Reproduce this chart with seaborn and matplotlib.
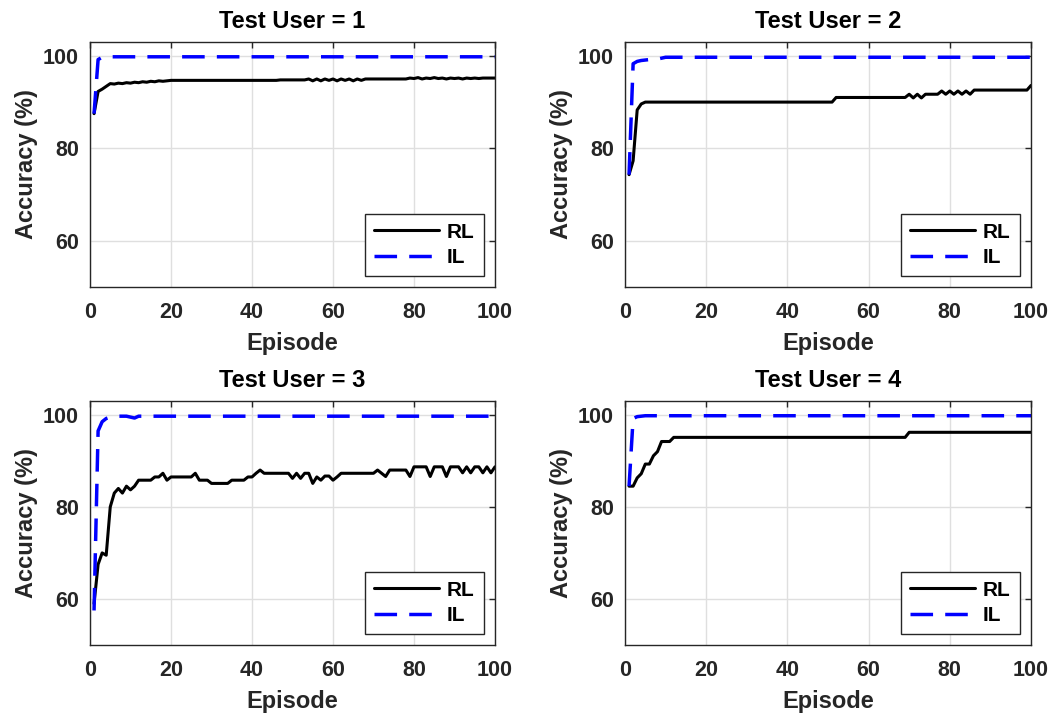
import numpy as np
import pandas as pd
import matplotlib
matplotlib.use("Agg")
import matplotlib.pyplot as plt
import seaborn as sns

# ---------------- data ----------------
episodes = list(range(1, 101))

rl_user1 = [87.5, 92.3, 92.8, 93.4, 94.0, 93.9, 94.1, 94.0, 94.2, 94.1,
            94.3, 94.2, 94.4, 94.3, 94.5, 94.4, 94.6, 94.5, 94.6, 94.7,
            94.7, 94.7, 94.7, 94.7, 94.7, 94.7, 94.7, 94.7, 94.7, 94.7,
            94.7, 94.7, 94.7, 94.7, 94.7, 94.7, 94.7, 94.7, 94.7, 94.7,
            94.7, 94.7, 94.7, 94.7, 94.7, 94.7, 94.8, 94.8, 94.8, 94.8,
            94.8, 94.8, 94.8, 95.0, 94.6, 95.0, 94.6, 95.0, 94.7, 95.0,
            94.6, 95.0, 94.7, 95.0, 94.6, 95.0, 94.7, 95.0, 95.0, 95.0,
            95.0, 95.0, 95.0, 95.0, 95.0, 95.0, 95.0, 95.0, 95.2, 95.1,
            95.3, 95.0, 95.2, 95.1, 95.3, 95.1, 95.2, 95.0, 95.2, 95.1,
            95.2, 95.0, 95.2, 95.1, 95.2, 95.1, 95.2, 95.2, 95.2, 95.2]
il_user1 = [87.5, 99.2, 99.7, 99.8, 99.8, 99.8, 99.8, 99.8, 99.8, 99.8,
            99.8, 99.8, 99.8, 99.8, 99.8, 99.8, 99.8, 99.8, 99.8, 99.8,
            99.8, 99.8, 99.8, 99.8, 99.8, 99.8, 99.8, 99.8, 99.8, 99.8,
            99.8, 99.8, 99.8, 99.8, 99.8, 99.8, 99.8, 99.8, 99.8, 99.8,
            99.8, 99.8, 99.8, 99.8, 99.8, 99.8, 99.8, 99.8, 99.8, 99.8,
            99.8, 99.8, 99.8, 99.8, 99.8, 99.8, 99.8, 99.8, 99.8, 99.8,
            99.8, 99.8, 99.8, 99.8, 99.8, 99.8, 99.8, 99.8, 99.8, 99.8,
            99.8, 99.8, 99.8, 99.8, 99.8, 99.8, 99.8, 99.8, 99.8, 99.8,
            99.8, 99.8, 99.8, 99.8, 99.8, 99.8, 99.8, 99.8, 99.8, 99.8,
            99.8, 99.8, 99.8, 99.8, 99.8, 99.8, 99.8, 99.8, 99.8, 99.8]

rl_user2 = [74.3, 77.3, 88.3, 89.6, 90.0, 90.0, 90.0, 90.0, 90.0, 90.0,
            90.0, 90.0, 90.0, 90.0, 90.0, 90.0, 90.0, 90.0, 90.0, 90.0,
            90.0, 90.0, 90.0, 90.0, 90.0, 90.0, 90.0, 90.0, 90.0, 90.0,
            90.0, 90.0, 90.0, 90.0, 90.0, 90.0, 90.0, 90.0, 90.0, 90.0,
            90.0, 90.0, 90.0, 90.0, 90.0, 90.0, 90.0, 90.0, 90.0, 90.0,
            90.0, 91.0, 91.0, 91.0, 91.0, 91.0, 91.0, 91.0, 91.0, 91.0,
            91.0, 91.0, 91.0, 91.0, 91.0, 91.0, 91.0, 91.0, 91.0, 91.7,
            90.9, 91.7, 90.9, 91.7, 91.7, 91.7, 91.7, 92.4, 91.7, 92.4,
            91.7, 92.4, 91.7, 92.4, 91.7, 92.6, 92.6, 92.6, 92.6, 92.6,
            92.6, 92.6, 92.6, 92.6, 92.6, 92.6, 92.6, 92.6, 92.6, 93.6]
il_user2 = [74.3, 98.3, 98.8, 99.0, 99.1, 99.2, 99.2, 99.3, 99.5, 99.7,
            99.7, 99.7, 99.7, 99.7, 99.7, 99.7, 99.7, 99.7, 99.7, 99.7,
            99.7, 99.7, 99.7, 99.7, 99.7, 99.7, 99.7, 99.7, 99.7, 99.7,
            99.7, 99.7, 99.7, 99.7, 99.7, 99.7, 99.7, 99.7, 99.7, 99.7,
            99.7, 99.7, 99.7, 99.7, 99.7, 99.7, 99.7, 99.7, 99.7, 99.7,
            99.7, 99.7, 99.7, 99.7, 99.7, 99.7, 99.7, 99.7, 99.7, 99.7,
            99.7, 99.7, 99.7, 99.7, 99.7, 99.7, 99.7, 99.7, 99.7, 99.7,
            99.7, 99.7, 99.7, 99.7, 99.7, 99.7, 99.7, 99.7, 99.7, 99.7,
            99.7, 99.7, 99.7, 99.7, 99.7, 99.7, 99.7, 99.7, 99.7, 99.7,
            99.7, 99.7, 99.7, 99.7, 99.7, 99.7, 99.7, 99.7, 99.7, 99.7]

rl_user3 = [59.0, 67.5, 70.0, 69.5, 80.0, 83.0, 84.0, 83.0, 84.5, 83.7,
            84.5, 85.8, 85.8, 85.8, 85.8, 86.5, 86.5, 87.3, 85.8, 86.5,
            86.5, 86.5, 86.5, 86.5, 86.5, 87.3, 85.8, 85.8, 85.8, 85.1,
            85.1, 85.1, 85.1, 85.1, 85.8, 85.8, 85.8, 85.8, 86.5, 86.5,
            87.3, 88.0, 87.3, 87.3, 87.3, 87.3, 87.3, 87.3, 87.3, 86.2,
            87.3, 86.2, 87.3, 87.3, 85.1, 86.5, 85.8, 86.7, 86.7, 85.8,
            86.5, 87.3, 87.3, 87.3, 87.3, 87.3, 87.3, 87.3, 87.3, 87.3,
            88.0, 87.3, 86.6, 88.0, 88.0, 88.0, 88.0, 88.0, 86.6, 88.7,
            88.7, 88.7, 88.7, 86.6, 88.7, 88.7, 88.7, 86.6, 88.7, 88.7,
            88.7, 87.4, 88.7, 87.4, 88.7, 88.7, 87.4, 88.7, 87.4, 88.7]
il_user3 = [57.5, 96.5, 98.5, 99.2, 99.5, 99.5, 99.7, 99.7, 99.7, 99.5,
            99.3, 99.7, 99.7, 99.7, 99.7, 99.7, 99.7, 99.7, 99.7, 99.7,
            99.7, 99.7, 99.7, 99.7, 99.7, 99.7, 99.7, 99.7, 99.7, 99.7,
            99.7, 99.7, 99.7, 99.7, 99.7, 99.7, 99.7, 99.7, 99.7, 99.7,
            99.7, 99.7, 99.7, 99.7, 99.7, 99.7, 99.7, 99.7, 99.7, 99.7,
            99.7, 99.7, 99.7, 99.7, 99.7, 99.7, 99.7, 99.7, 99.7, 99.7,
            99.7, 99.7, 99.7, 99.7, 99.7, 99.7, 99.7, 99.7, 99.7, 99.7,
            99.7, 99.7, 99.7, 99.7, 99.7, 99.7, 99.7, 99.7, 99.7, 99.7,
            99.7, 99.7, 99.7, 99.7, 99.7, 99.7, 99.7, 99.7, 99.7, 99.7,
            99.7, 99.7, 99.7, 99.7, 99.7, 99.7, 99.7, 99.7, 99.7, 99.7]

rl_user4 = [84.5, 84.5, 86.3, 87.2, 89.3, 89.3, 91.1, 92.0, 94.2, 94.2,
            94.2, 95.1, 95.1, 95.1, 95.1, 95.1, 95.1, 95.1, 95.1, 95.1,
            95.1, 95.1, 95.1, 95.1, 95.1, 95.1, 95.1, 95.1, 95.1, 95.1,
            95.1, 95.1, 95.1, 95.1, 95.1, 95.1, 95.1, 95.1, 95.1, 95.1,
            95.1, 95.1, 95.1, 95.1, 95.1, 95.1, 95.1, 95.1, 95.1, 95.1,
            95.1, 95.1, 95.1, 95.1, 95.1, 95.1, 95.1, 95.1, 95.1, 95.1,
            95.1, 95.1, 95.1, 95.1, 95.1, 95.1, 95.1, 95.1, 95.1, 96.2,
            96.2, 96.2, 96.2, 96.2, 96.2, 96.2, 96.2, 96.2, 96.2, 96.2,
            96.2, 96.2, 96.2, 96.2, 96.2, 96.2, 96.2, 96.2, 96.2, 96.2,
            96.2, 96.2, 96.2, 96.2, 96.2, 96.2, 96.2, 96.2, 96.2, 96.2]
il_user4 = [84.5, 99.2, 99.6, 99.7, 99.8, 99.8, 99.8, 99.8, 99.8, 99.8,
            99.8, 99.8, 99.8, 99.8, 99.8, 99.8, 99.8, 99.8, 99.8, 99.8,
            99.8, 99.8, 99.8, 99.8, 99.8, 99.8, 99.8, 99.8, 99.8, 99.8,
            99.8, 99.8, 99.8, 99.8, 99.8, 99.8, 99.8, 99.8, 99.8, 99.8,
            99.8, 99.8, 99.8, 99.8, 99.8, 99.8, 99.8, 99.8, 99.8, 99.8,
            99.8, 99.8, 99.8, 99.8, 99.8, 99.8, 99.8, 99.8, 99.8, 99.8,
            99.8, 99.8, 99.8, 99.8, 99.8, 99.8, 99.8, 99.8, 99.8, 99.8,
            99.8, 99.8, 99.8, 99.8, 99.8, 99.8, 99.8, 99.8, 99.8, 99.8,
            99.8, 99.8, 99.8, 99.8, 99.8, 99.8, 99.8, 99.8, 99.8, 99.8,
            99.8, 99.8, 99.8, 99.8, 99.8, 99.8, 99.8, 99.8, 99.8, 99.8]

user_ids = [1, 2, 3, 4]
rl_series = [rl_user1, rl_user2, rl_user3, rl_user4]
il_series = [il_user1, il_user2, il_user3, il_user4]
series_names = ["RL", "IL"]
x_ticks = [0, 20, 40, 60, 80, 100]
y_ticks = [60, 80, 100]

# ---------------- style ----------------
sns.set_theme(style="whitegrid")
plt.rcParams["font.family"] = ["Liberation Sans", "DejaVu Sans"]
plt.rcParams["font.weight"] = "bold"
plt.rcParams["axes.labelweight"] = "bold"
plt.rcParams["axes.titleweight"] = "bold"

text_gray = "#262626"
grid_gray = "#dfdfdf"

fig = plt.figure(figsize=(10.52, 7.15), dpi=100)
W, H = 1052.0, 715.0
boxes = [(90, 42, 495, 287), (625, 42, 1031, 287),
         (90, 401, 495, 645), (625, 401, 1031, 645)]

for i, (uid, rl, il) in enumerate(zip(user_ids, rl_series, il_series)):
    l, t, r, b = boxes[i]
    ax = fig.add_axes([l / W, 1 - b / H, (r - l) / W, (b - t) / H])
    df = pd.DataFrame({"Episode": episodes, "RL": rl, "IL": il})
    sns.lineplot(data=df, x="Episode", y="RL", ax=ax, color="black",
                 linewidth=2.2, label=series_names[0])
    sns.lineplot(data=df, x="Episode", y="IL", ax=ax, color="#0000ff",
                 linewidth=2.5, linestyle=(0, (6.5, 3.5)),
                 label=series_names[1])
    ax.set_xlim(0, 100)
    ax.set_ylim(50, 103)
    ax.set_xticks(x_ticks)
    ax.set_yticks(y_ticks)
    ax.set_facecolor("white")
    ax.grid(True, color=grid_gray, linewidth=1.0)
    for s in ax.spines.values():
        s.set_visible(True)
        s.set_color(text_gray)
        s.set_linewidth(1.0)
    ax.tick_params(direction="in", length=4, width=1.0, colors=text_gray,
                   top=True, right=True, labelsize=15.5)
    ax.tick_params(axis="x", pad=11)
    ax.tick_params(axis="y", pad=8)
    for lab in ax.get_xticklabels() + ax.get_yticklabels():
        lab.set_fontweight("bold")
    ax.set_xlabel("Episode", fontsize=17, fontweight="bold", color=text_gray)
    ax.set_ylabel("Accuracy (%)", fontsize=17, fontweight="bold", color=text_gray)
    ax.xaxis.set_label_coords(0.5, -0.185)
    ax.yaxis.set_label_coords(-0.128, 0.5)
    ax.set_title(f"Test User = {uid}", fontsize=17, fontweight="bold",
                 color="black", pad=10)
    leg = ax.legend(loc="lower right", fontsize=15, frameon=True,
                    fancybox=False, handlelength=3.1, borderaxespad=0.55,
                    borderpad=0.42, labelspacing=0.3, handletextpad=0.4)
    leg.get_frame().set_edgecolor(text_gray)
    leg.get_frame().set_linewidth(1.0)
    leg.get_frame().set_alpha(1.0)
    for txt in leg.get_texts():
        txt.set_fontweight("bold")
        txt.set_color("black")

fig.savefig("out.png", dpi=100, facecolor="white")
